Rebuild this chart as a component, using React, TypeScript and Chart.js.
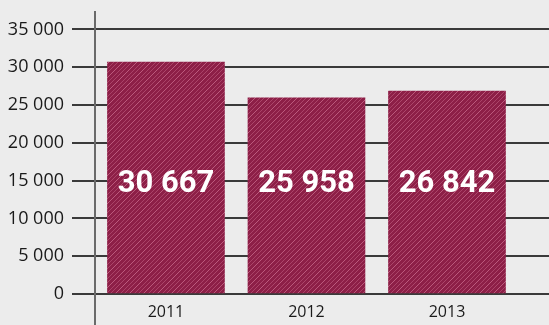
import React, { useEffect, useRef } from 'react';
import { Chart, registerables } from 'chart.js';

Chart.register(...registerables);

// ---- data ----
const YEARS = ['2011', '2012', '2013'];
const VALUES = [30667, 25958, 26842];
const Y_TICKS = [0, 5000, 10000, 15000, 20000, 25000, 30000, 35000];
const X_TICKS = [-0.505, 0, 1, 2];
const LABEL_AT = 15000;

const fmt = (v: number) => String(v).replace(/\B(?=(\d{3})+(?!\d))/g, ' ');

const BG = '#ececec';
const GRID = '#3a3a3a';
const AXIS = '#6a6a6a';
const BAR = '#8d1f47';

function makePattern(): CanvasPattern | string {
  const c = document.createElement('canvas');
  c.width = 14;
  c.height = 14;
  const g = c.getContext('2d');
  if (!g) return BAR;
  g.fillStyle = BAR;
  g.fillRect(0, 0, 14, 14);
  const lines: [number, number, number][] = [
    [3, 0.5, 1],
    [8, 0.3, 1],
    [12, 0.4, 0.8],
  ];
  for (const [k, a, w] of lines) {
    g.strokeStyle = `rgba(235,150,180,${a})`;
    g.lineWidth = w;
    for (const off of [-14, 0, 14]) {
      g.beginPath();
      g.moveTo(k + off + 1, -1);
      g.lineTo(k + off - 15, 15);
      g.stroke();
    }
  }
  const p = g.createPattern(c, 'repeat');
  return p || BAR;
}

const labelPlugin = {
  id: 'valueLabels',
  afterDraw(chart: any) {
    const ctx = chart.ctx;
    const meta = chart.getDatasetMeta(0);
    const y = chart.scales.y.getPixelForValue(LABEL_AT);
    ctx.save();
    ctx.font = 'bold 31px Roboto, "DejaVu Sans", sans-serif';
    ctx.fillStyle = '#ffffff';
    ctx.textAlign = 'center';
    ctx.textBaseline = 'alphabetic';
    meta.data.forEach((bar: any, i: number) => {
      ctx.fillText(fmt(VALUES[i]), bar.x, y + 11);
    });
    ctx.restore();
  },
};

export default function App() {
  const ref = useRef<HTMLCanvasElement | null>(null);

  useEffect(() => {
    document.body.style.margin = '0';
    document.body.style.background = BG;
    const canvas = ref.current;
    if (!canvas) return;
    const chart = new Chart(canvas, {
      type: 'bar',
      data: {
        datasets: [
          {
            data: VALUES.map((v, i) => ({ x: i, y: v })) as any,
            backgroundColor: makePattern() as any,
            borderWidth: 0,
            barThickness: 117,
          },
        ],
      },
      options: {
        responsive: false,
        animation: false,
        layout: { padding: { left: 6, top: 12, right: 0, bottom: 0 } },
        plugins: { legend: { display: false }, tooltip: { enabled: false } },
        scales: {
          x: {
            type: 'linear',
            min: X_TICKS[0],
            max: 2.726,
            offset: false,
            afterBuildTicks: (s: any) => {
              s.ticks = X_TICKS.map((v) => ({ value: v }));
            },
            afterFit: (s: any) => {
              s.height = 31;
              s.paddingLeft = 0;
              s.paddingRight = 0;
            },
            grid: {
              offset: false,
              drawOnChartArea: false,
              drawTicks: true,
              tickLength: 32,
              lineWidth: 2,
              color: (c: any) => (c.index === 0 ? AXIS : 'rgba(0,0,0,0)'),
            },
            border: { display: false },
            ticks: {
              padding: -23,
              autoSkip: false,
              maxRotation: 0,
              color: '#1a1a1a',
              font: { family: '"Open Sans", "Liberation Sans", sans-serif', size: 16 },
              callback: (v: any) => YEARS[v as number] ?? '',
            },
          },
          y: {
            min: 0,
            max: 37300,
            z: 1,
            afterBuildTicks: (s: any) => {
              s.ticks = Y_TICKS.map((v) => ({ value: v }));
            },
            afterFit: (s: any) => {
              s.width = 89;
              s.paddingTop = 0;
              s.paddingBottom = 0;
            },
            grid: { color: GRID, lineWidth: 2, tickLength: 23 },
            border: { color: AXIS, width: 2 },
            ticks: {
              padding: 8,
              color: '#1a1a1a',
              font: { family: '"Open Sans", "Liberation Sans", sans-serif', size: 18 },
              callback: (v: any) => fmt(v as number),
            },
          },
        },
      },
      plugins: [labelPlugin],
    } as any);
    return () => chart.destroy();
  }, []);

  return (
    <div style={{ width: 549, height: 325, background: BG }}>
      <canvas ref={ref} width={549} height={325} style={{ display: 'block' }} />
    </div>
  );
}
